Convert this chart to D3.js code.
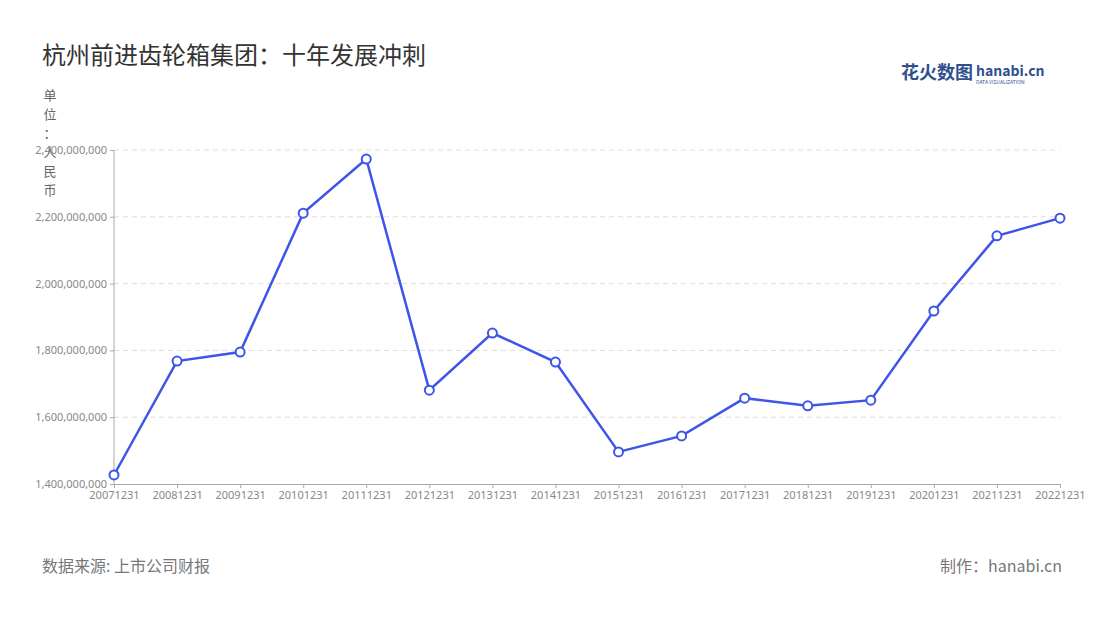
<!DOCTYPE html>
<html><head><meta charset="utf-8">
<script src="https://cdn.jsdelivr.net/npm/d3@7"></script>
<style>body{margin:0;background:#fff;font-family:"Noto Sans CJK SC","Noto Sans",sans-serif}</style>
</head><body>
<svg id="chart" width="1100" height="620"></svg>
<script>
var years = ["20071231","20081231","20091231","20101231","20111231","20121231","20131231","20141231",
  "20151231","20161231","20171231","20181231","20191231","20201231","20211231","20221231"];
var revenue = [1427e6,1768e6,1795e6,2211e6,2373e6,1681e6,1852e6,1765e6,
  1496e6,1544e6,1657e6,1634e6,1651e6,1918e6,2143e6,2196e6];
var yTicks = [1400e6,1600e6,1800e6,2000e6,2200e6,2400e6];

var svg = d3.select("#chart");
var x = d3.scalePoint().domain(years).range([114, 1060]);
var y = d3.scaleLinear().domain([1400e6, 2400e6]).range([484, 150]);

svg.append("text").attr("x", 42).attr("y", 64).attr("font-size", 24).attr("fill", "#333")
  .text("杭州前进齿轮箱集团：十年发展冲刺");

svg.append("text").attr("x", 973).attr("y", 79).attr("text-anchor", "end").attr("font-size", 18)
  .attr("font-weight", "bold").attr("fill", "#2f4f8f").text("花火数图");
svg.append("text").attr("x", 976).attr("y", 76).attr("font-size", 14).attr("font-weight", "bold")
  .attr("fill", "#2f4f8f").text("hanabi.cn");
svg.append("text").attr("x", 976).attr("y", 84).attr("font-size", 5).attr("fill", "#2f4f8f").text("DATA VISUALIZATION");

"单位：人民币".split("").forEach(function(c, i) {
  svg.append("text").attr("x", 50).attr("y", 100 + i * 19).attr("text-anchor", "middle")
    .attr("font-size", 13).attr("fill", "#666").text(c);
});

svg.append("g").selectAll("line").data(yTicks.slice(1)).enter().append("line")
  .attr("x1", 114).attr("x2", 1060).attr("y1", y).attr("y2", y)
  .attr("stroke", "#ddd").attr("stroke-dasharray", "5,4");

var yAxis = svg.append("g").attr("transform", "translate(114,0)")
  .call(d3.axisLeft(y).tickValues(yTicks).tickFormat(d3.format(",")).tickSize(4));
var xAxis = svg.append("g").attr("transform", "translate(0,484)")
  .call(d3.axisBottom(x).tickSize(4));
[yAxis, xAxis].forEach(function(a) {
  a.selectAll("path,line").attr("stroke", "#aaa");
  a.selectAll("text").attr("fill", "#888").attr("font-size", 11).attr("font-family", "Noto Sans");
});
yAxis.select(".domain").attr("d", "M0,150V484");

var line = d3.line().x(function(d, i) { return x(years[i]); }).y(function(d) { return y(d); });
svg.append("path").datum(revenue).attr("d", line).attr("fill", "none")
  .attr("stroke", "#3d55e8").attr("stroke-width", 2.5);
svg.append("g").selectAll("circle").data(revenue).enter().append("circle")
  .attr("cx", function(d, i) { return x(years[i]); }).attr("cy", y).attr("r", 4.5)
  .attr("fill", "#fff").attr("stroke", "#3d55e8").attr("stroke-width", 2);

svg.append("text").attr("x", 42).attr("y", 572).attr("font-size", 16).attr("fill", "#777")
  .text("数据来源: 上市公司财报");
svg.append("text").attr("x", 1062).attr("y", 572).attr("text-anchor", "end").attr("font-size", 16)
  .attr("fill", "#777").text("制作：hanabi.cn");
</script>
</body></html>
